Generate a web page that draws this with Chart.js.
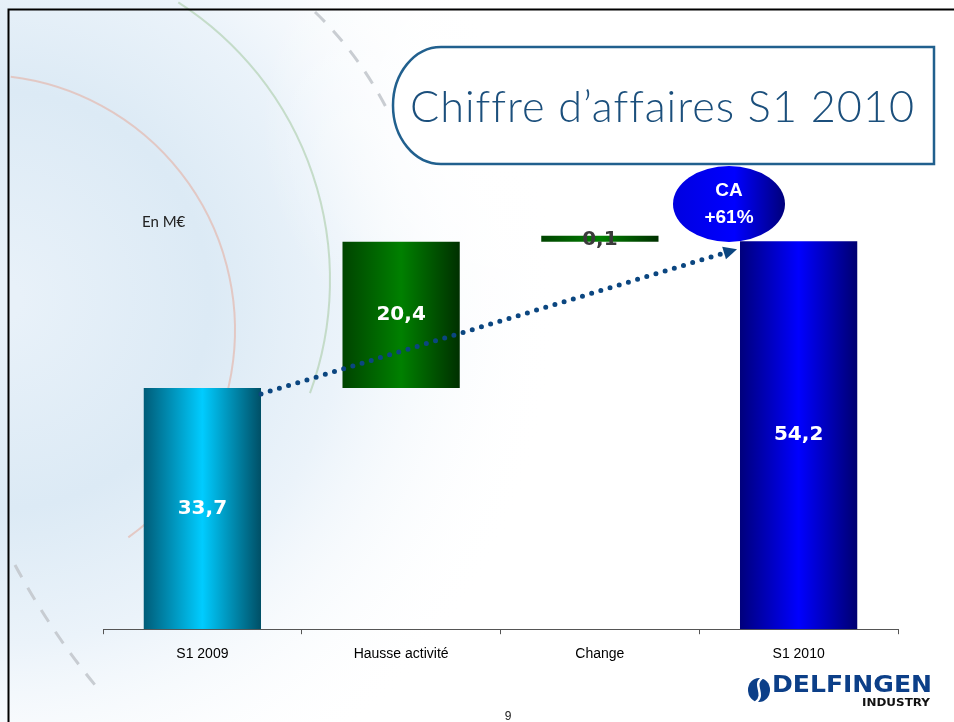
<!DOCTYPE html>
<html lang="fr">
<head>
<meta charset="utf-8">
<title>Chiffre d'affaires S1 2010</title>
<script src="https://cdn.jsdelivr.net/npm/chart.js@4.4.1/dist/chart.umd.min.js"></script>
<style>
  html, body { margin: 0; padding: 0; background: #ffffff; }
  #wrap { position: relative; width: 954px; height: 722px; }
</style>
</head>
<body>
<div id="wrap"><canvas id="chart" width="954" height="722"></canvas></div>
<script>
// données (en M€)
const categories = ['S1 2009', 'Hausse activité', 'Change', 'S1 2010'];
const valeurs = [33.7, 20.4, 0.1, 54.2];
const typesBarre = ['total', 'variation', 'variation', 'total'];

const titre = 'Chiffre d\u2019affaires S1 2010';
const unite = 'En M\u20ac';
const bulle = ['CA', '+61%'];
const numeroPage = '9';

// dégradés horizontaux : bord gauche, centre, bord droit
const degrades = [
  ['#005c78', '#00ccff', '#004f66'],
  ['#004400', '#008000', '#003000'],
  ['#004400', '#008000', '#003000'],
  ['#00007c', '#0000ff', '#000070'],
];
const BAR_PCT = 0.59;

// barres flottantes de la cascade
function construireCascade(vals, types) {
  let cumul = 0;
  return vals.map((v, i) => {
    if (types[i] === 'total') {
      cumul = v;
      return [0, v];
    }
    const debut = cumul;
    cumul = +(cumul + v).toFixed(1);
    return [debut, cumul];
  });
}

function fmt(v) {
  return v.toFixed(1).replace('.', ',');
}

function couleurBarre(ctx) {
  const chart = ctx.chart;
  if (!chart.chartArea) return degrades[ctx.dataIndex][1];
  const x = chart.scales.x.getPixelForValue(ctx.dataIndex);
  const w = chart.scales.x.width / categories.length * BAR_PCT;
  const g = chart.ctx.createLinearGradient(x - w / 2, 0, x + w / 2, 0);
  const c = degrades[ctx.dataIndex];
  g.addColorStop(0, c[0]);
  g.addColorStop(0.5, c[1]);
  g.addColorStop(1, c[2]);
  return g;
}

// texte étiré à une largeur donnée
function texteLargeur(c, txt, x, y, largeur) {
  const w = c.measureText(txt).width;
  c.save();
  c.translate(x, y);
  c.scale(largeur / w, 1);
  c.fillText(txt, 0, 0);
  c.restore();
}

// fond de la diapositive
const fondDiapo = {
  id: 'fondDiapo',
  beforeDraw(chart) {
    const c = chart.ctx;
    const W = chart.width, H = chart.height;
    c.save();
    c.fillStyle = '#ffffff';
    c.fillRect(0, 0, W, H);
    const rg = c.createRadialGradient(0, 300, 20, 0, 300, 560);
    rg.addColorStop(0, '#e8f1f9');
    rg.addColorStop(0.35, '#dceaf5');
    rg.addColorStop(0.6, '#ebf3fa');
    rg.addColorStop(1, 'rgba(255,255,255,0)');
    c.fillStyle = rg;
    c.fillRect(0, 0, W, H);
    // voile blanc derrière le titre
    const wg = c.createRadialGradient(520, 120, 40, 520, 120, 260);
    wg.addColorStop(0, 'rgba(255,255,255,1)');
    wg.addColorStop(1, 'rgba(255,255,255,0)');
    c.fillStyle = wg;
    c.fillRect(0, 0, W, H);
    // arcs décoratifs
    c.lineWidth = 2;
    c.strokeStyle = 'rgba(228,185,175,0.7)';
    c.beginPath();
    c.arc(-20, 330, 255, -1.45, 0.95);
    c.stroke();
    c.strokeStyle = 'rgba(180,210,180,0.7)';
    c.beginPath();
    c.arc(0, 280, 330, -1.0, 0.35);
    c.stroke();
    c.strokeStyle = 'rgba(195,200,205,0.9)';
    c.lineWidth = 3;
    c.setLineDash([14, 12]);
    c.beginPath();
    c.moveTo(315, 12);
    c.quadraticCurveTo(360, 55, 390, 115);
    c.stroke();
    c.beginPath();
    c.moveTo(15, 565);
    c.quadraticCurveTo(50, 630, 95, 685);
    c.stroke();
    c.setLineDash([]);
    // cadre de la diapositive
    c.strokeStyle = '#000000';
    c.lineWidth = 2;
    c.beginPath();
    c.moveTo(8.5, H);
    c.lineTo(8.5, 9.5);
    c.lineTo(W, 9.5);
    c.stroke();
    c.restore();
  }
};

// titre, étiquettes, flèche, bulle, logo
const decor = {
  id: 'decor',
  afterDatasetsDraw(chart) {
    const c = chart.ctx;
    const meta = chart.getDatasetMeta(0);
    const y = chart.scales.y;
    c.save();

    // valeurs dans les barres
    c.textAlign = 'center';
    c.textBaseline = 'middle';
    c.font = 'bold 20px "DejaVu Sans", Verdana, sans-serif';
    meta.data.forEach((bar, i) => {
      const milieu = (bar.y + bar.base) / 2;
      if (Math.abs(bar.base - bar.y) < 20) {
        c.fillStyle = '#3a3a3a';
        c.fillText(fmt(valeurs[i]), bar.x, milieu + 1);
      } else {
        c.fillStyle = '#ffffff';
        c.fillText(fmt(valeurs[i]), bar.x, milieu);
      }
    });

    // flèche pointillée entre les deux totaux
    const b0 = meta.data[0], b3 = meta.data[3];
    const x0 = b0.x + b0.width / 2, y0 = y.getPixelForValue(valeurs[0]) + 6;
    const x1 = b3.x - b3.width / 2 - 3, y1 = y.getPixelForValue(valeurs[3]) + 8;
    const ang = Math.atan2(y1 - y0, x1 - x0);
    const tete = 15;
    c.strokeStyle = '#0b4680';
    c.fillStyle = '#0b4680';
    c.lineWidth = 5;
    c.lineCap = 'round';
    c.setLineDash([0, 9.6]);
    c.beginPath();
    c.moveTo(x0, y0);
    c.lineTo(x1 - tete * Math.cos(ang), y1 - tete * Math.sin(ang));
    c.stroke();
    c.setLineDash([]);
    c.beginPath();
    c.moveTo(x1, y1);
    c.lineTo(x1 - tete * Math.cos(ang - 0.45), y1 - tete * Math.sin(ang - 0.45));
    c.lineTo(x1 - tete * Math.cos(ang + 0.45), y1 - tete * Math.sin(ang + 0.45));
    c.closePath();
    c.fill();

    // bulle CA +61%
    const bx = 729, by = 204;
    const eg = c.createLinearGradient(bx - 56, 0, bx + 56, 0);
    eg.addColorStop(0, '#0000e0');
    eg.addColorStop(0.55, '#0000ff');
    eg.addColorStop(1, '#00007a');
    c.fillStyle = eg;
    c.beginPath();
    c.ellipse(bx, by, 56, 38, 0, 0, Math.PI * 2);
    c.fill();
    c.fillStyle = '#ffffff';
    c.font = 'bold 19px "Liberation Sans", Arial, sans-serif';
    c.fillText(bulle[0], bx, by - 13);
    c.fillText(bulle[1], bx, by + 14);

    // cadre du titre
    const gx = 393, gy = 47, dx = 934, dy = 164;
    c.fillStyle = 'rgba(255,255,255,0.85)';
    c.strokeStyle = '#21608e';
    c.lineWidth = 2.5;
    c.beginPath();
    c.moveTo(gx + 48, gy);
    c.lineTo(dx, gy);
    c.lineTo(dx, dy);
    c.lineTo(gx + 48, dy);
    c.ellipse(gx + 48, (gy + dy) / 2, 48, (dy - gy) / 2, 0, Math.PI / 2, Math.PI * 1.5);
    c.closePath();
    c.fill();
    c.stroke();
    c.fillStyle = '#1b4f7c';
    c.font = '300 44px Lato, "Open Sans", sans-serif';
    c.letterSpacing = '1px';
    c.textBaseline = 'alphabetic';
    c.textAlign = 'left';
    texteLargeur(c, titre, 410, 122, 505);
    c.letterSpacing = '0px';

    // unité
    c.fillStyle = '#222222';
    c.font = '15px Lato, "Open Sans", sans-serif';
    c.fillText(unite, 142, 227);

    // numéro de page
    c.textAlign = 'center';
    c.font = '12px "Liberation Sans", Arial, sans-serif';
    c.fillText(numeroPage, 508, 720);

    // logo
    c.fillStyle = '#0c3f88';
    c.beginPath();
    c.ellipse(759, 690, 11, 12, 0, 0, Math.PI * 2);
    c.fill();
    c.strokeStyle = '#ffffff';
    c.lineWidth = 2.5;
    c.beginPath();
    c.moveTo(762, 678);
    c.bezierCurveTo(752, 685, 766, 694, 756, 702);
    c.stroke();
    c.fillStyle = '#0c3f88';
    c.textAlign = 'left';
    c.font = '900 23px "DejaVu Sans", Arial, sans-serif';
    texteLargeur(c, 'DELFINGEN', 772, 692, 160);
    c.fillStyle = '#111111';
    c.font = 'bold 10px "DejaVu Sans", Arial, sans-serif';
    texteLargeur(c, 'INDUSTRY', 862, 706, 68);

    c.restore();
  }
};

new Chart(document.getElementById('chart'), {
  type: 'bar',
  data: {
    labels: categories,
    datasets: [{
      data: construireCascade(valeurs, typesBarre),
      backgroundColor: couleurBarre,
      borderWidth: 0,
      barPercentage: BAR_PCT,
      categoryPercentage: 1,
      minBarLength: 6,
    }],
  },
  options: {
    responsive: false,
    animation: false,
    layout: { padding: { left: 103, right: 56, top: 128, bottom: 47 } },
    plugins: {
      legend: { display: false },
      tooltip: { enabled: false },
    },
    scales: {
      x: {
        grid: {
          display: true,
          drawOnChartArea: false,
          offset: true,
          color: '#555555',
          tickLength: 5,
        },
        border: { display: true, color: '#555555', width: 1 },
        ticks: {
          color: '#000000',
          padding: 12,
          font: { family: '"Liberation Sans", Arial, sans-serif', size: 14 },
        },
      },
      y: {
        display: false,
        min: 0,
        max: 70,
      },
    },
  },
  plugins: [fondDiapo, decor],
});
</script>
</body>
</html>
